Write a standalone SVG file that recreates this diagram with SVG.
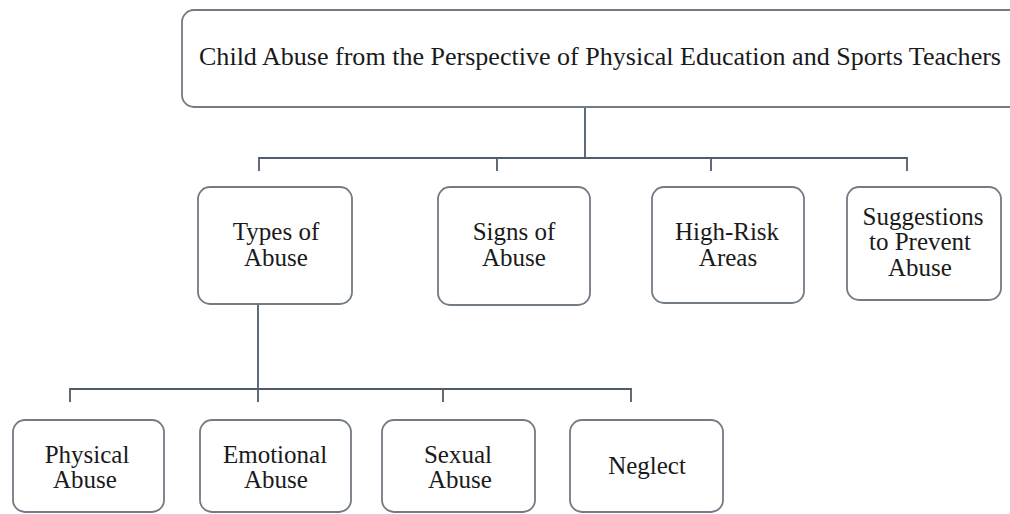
<svg xmlns="http://www.w3.org/2000/svg" width="1010" height="514" viewBox="0 0 1010 514">
<style>
.box{fill:#ffffff;stroke:#737b85;stroke-width:1.8}
.t{font-family:"Liberation Serif","Times New Roman",serif;font-size:25px;fill:#1a1a1a;text-anchor:middle}
.tt{font-family:"Liberation Serif","Times New Roman",serif;font-size:25.5px;fill:#1a1a1a}
.c{fill:none;stroke:#4f5d6b;stroke-width:1.8}
</style>
<rect width="1010" height="514" fill="#ffffff"/>
<g id="connectors">
<path class="c" d="M585 107V158M259 171V158H907V171M497 158V171M711 158V171"/>
<path class="c" d="M258 304V402M70 402V389H631V402M443 389V402"/>
</g>
<g id="root">
<rect class="box" x="182" y="10" width="850" height="97" rx="12"/>
<text class="tt" x="199" y="65" textLength="802" lengthAdjust="spacingAndGlyphs">Child Abuse from the Perspective of Physical Education and Sports Teachers</text>
</g>
<g id="types">
<rect class="box" x="198" y="187" width="154" height="117" rx="12"/>
<text class="t" x="276" y="240">Types of</text>
<text class="t" x="276" y="266">Abuse</text>
</g>
<g id="signs">
<rect class="box" x="438" y="187" width="152" height="118" rx="12"/>
<text class="t" x="514" y="240">Signs of</text>
<text class="t" x="514" y="266">Abuse</text>
</g>
<g id="highrisk">
<rect class="box" x="652" y="187" width="152" height="116" rx="12"/>
<text class="t" x="727" y="240">High-Risk</text>
<text class="t" x="728" y="266">Areas</text>
</g>
<g id="suggestions">
<rect class="box" x="847" y="187" width="154" height="113" rx="12"/>
<text class="t" x="923" y="225">Suggestions</text>
<text class="t" x="920" y="250">to Prevent</text>
<text class="t" x="920" y="276">Abuse</text>
</g>
<g id="physical">
<rect class="box" x="13" y="420" width="151" height="92" rx="12"/>
<text class="t" x="87" y="463">Physical</text>
<text class="t" x="85" y="488">Abuse</text>
</g>
<g id="emotional">
<rect class="box" x="200" y="420" width="151" height="92" rx="12"/>
<text class="t" x="275" y="463">Emotional</text>
<text class="t" x="276" y="488">Abuse</text>
</g>
<g id="sexual">
<rect class="box" x="382" y="420" width="153" height="92" rx="12"/>
<text class="t" x="458" y="463">Sexual</text>
<text class="t" x="460" y="488">Abuse</text>
</g>
<g id="neglect">
<rect class="box" x="570" y="420" width="153" height="92" rx="12"/>
<text class="t" x="647" y="474">Neglect</text>
</g>
</svg>
